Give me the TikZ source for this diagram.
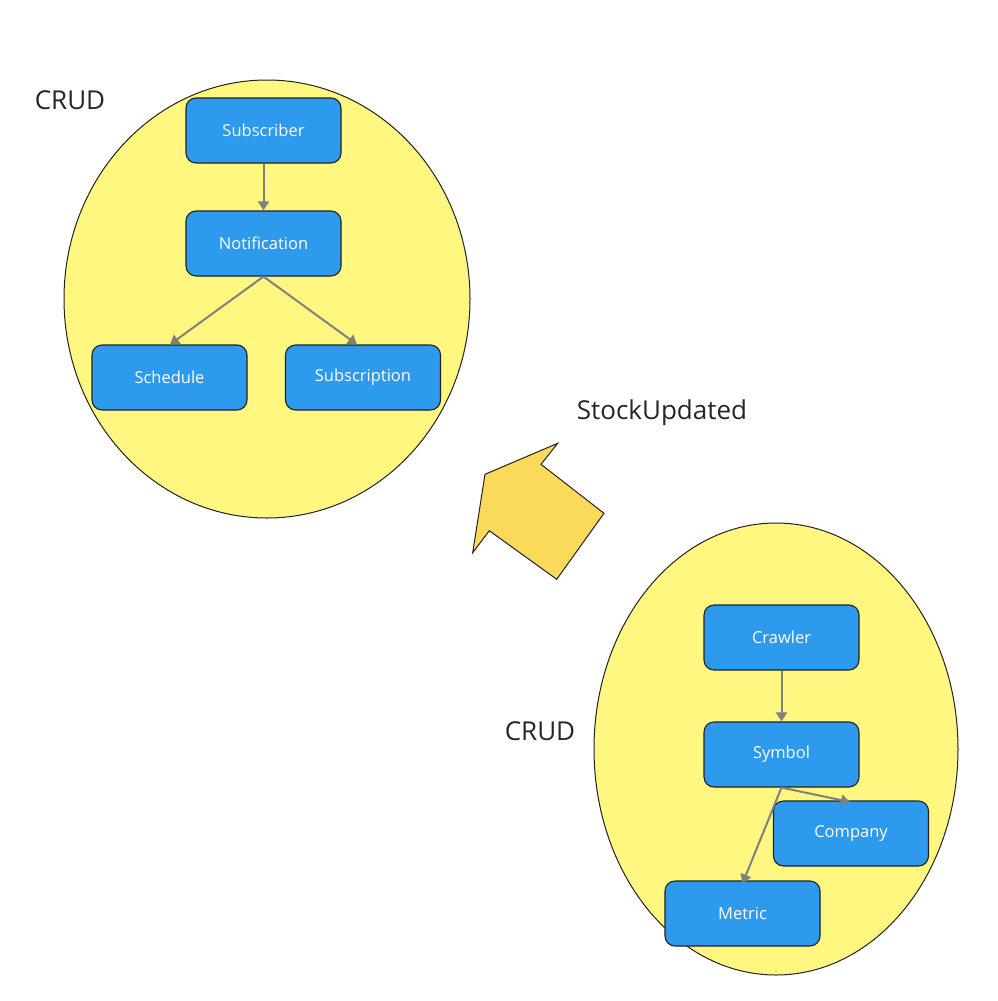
\documentclass[tikz,border=0pt]{standalone}
\usepackage{fontspec}
\setmainfont{Open Sans}
\usetikzlibrary{shapes.geometric,arrows.meta}
\definecolor{ellyellow}{HTML}{FFF780}
\definecolor{boxblue}{HTML}{2E9AEE}
\definecolor{arrowfill}{HTML}{FBD95B}
\definecolor{edgegray}{HTML}{808080}
\definecolor{outline}{HTML}{222222}
\tikzset{
  px/.style={x=1pt,y=-1pt},
  region/.style={ellipse,draw=outline,fill=ellyellow,line width=1pt,inner sep=0pt},
  entity/.style={rectangle,rounded corners=10pt,draw=outline,fill=boxblue,line width=1.1pt,
    minimum width=155pt,minimum height=65pt,inner sep=0pt,text=white,font=\fontsize{16.5}{19}\selectfont},
  label/.style={font=\fontsize{26}{30}\selectfont,text=black!85},
  rel/.style={draw=edgegray,line width=2pt,-{Triangle[length=9pt,width=11pt]}}
}
\begin{document}
\begin{tikzpicture}[px]
\useasboundingbox[fill=white] (0,0) rectangle (998,1001);
\node[region,minimum width=406pt,minimum height=438pt] (e1) at (267,299) {};
\node[region,minimum width=364pt,minimum height=452pt] (e2) at (776,749) {};
\node[label] (crud1) at (70,100) {CRUD};
\node[label] (crud2) at (540,731) {CRUD};
\node[label] (stock) at (662,413) {StockUpdated};
\filldraw[fill=arrowfill,draw=outline,line width=1pt]
  (557.7,443.3) -- (541,464.3) -- (604,513.3) -- (556.7,579.3) -- (489.3,530.7)
  -- (472.7,552.7) -- (485,474.3) -- cycle;
\node[entity] (subscriber) at (263.5,130.5) {\raisebox{-1.5pt}{Subscriber}};
\node[entity] (notification) at (263.5,243.5) {\raisebox{-1.5pt}{Notification}};
\node[entity] (schedule) at (169.5,377.5) {\raisebox{-1.5pt}{Schedule}};
\node[entity] (subscription) at (363,377.5) {\raisebox{-1.5pt}{Subscription}};
\node[entity] (crawler) at (781.5,637.5) {\raisebox{-1.5pt}{Crawler}};
\node[entity] (symbol) at (781.5,754.5) {\raisebox{-1.5pt}{Symbol}};
\node[entity] (company) at (851,833.5) {\raisebox{-1.5pt}{Company}};
\node[entity] (metric) at (742.5,913.5) {\raisebox{-1.5pt}{Metric}};
\draw[rel] (subscriber.south) -- (notification.north);
\draw[rel] (notification.south) -- ([xshift=0.5pt]schedule.north);
\draw[rel] (notification.south) -- ([xshift=-6pt]subscription.north);
\draw[rel] (crawler.south) -- (symbol.north);
\draw[rel] (symbol.south) -- ([xshift=-1pt,yshift=-1.5pt]company.north);
\draw[rel] (symbol.south) -- ([yshift=-3pt]metric.north);
\end{tikzpicture}
\end{document}
